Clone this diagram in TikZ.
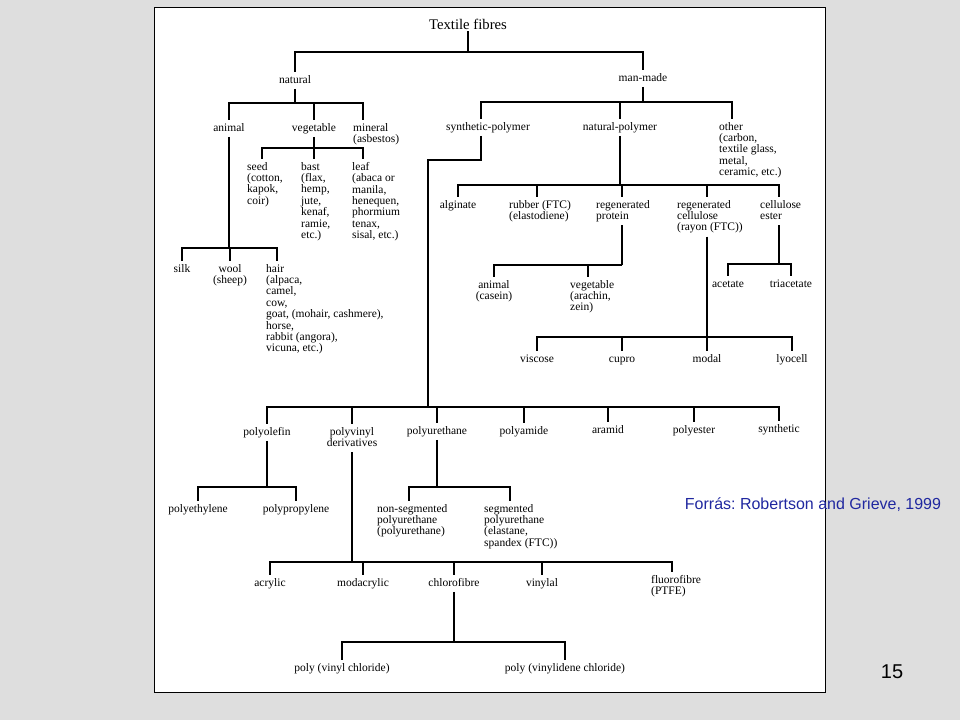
\documentclass[tikz,border=0pt]{standalone}
\usepackage{fontspec}
\setmainfont{Liberation Serif}
\newfontfamily\slidefont{Liberation Sans}
\definecolor{slidegray}{RGB}{222,222,222}
\definecolor{sourceblue}{RGB}{32,40,160}
\newcommand{\fibrefont}{\fontsize{11.5}{11.4}\selectfont}
\frenchspacing

\begin{document}
\begin{tikzpicture}[
    x=1pt, y=-1pt,
    title/.style={inner sep=0pt, anchor=base, font=\fontsize{14.7}{17}\selectfont},
    fibre/.style={
        inner sep=0pt, anchor=north, align=center,
        font=\fibrefont, execute at begin node=\strut
    },
    fibreleft/.style={fibre, anchor=north west, align=left},
    line/.style={line width=1.1pt},
    stem/.style={line, shorten <=2pt},
    branch/.style={line, shorten >=3pt},
    source/.style={font=\slidefont\fontsize{16}{19}\selectfont, text=sourceblue}
]

% Slide and page
\fill[slidegray] (0,0) rectangle (960,720);
\useasboundingbox (0,0) rectangle (960,720);
\draw[line width=1pt, fill=white] (154,7) rectangle (825,692);

% ============================== TOP ==============================
\node[title] (title) at (468,29) {Textile fibres};
\node[fibre] (natural) at (295,75) {natural};
\node[fibre] (manmade) at (643,73) {man-made};

\coordinate (topbar) at (468,52);
\draw[stem] (title.south) -- (topbar);
\draw[branch] (topbar) -| (natural.north);
\draw[branch] (topbar) -| (manmade.north);

% ============================== NATURAL ==============================
\node[fibre] (animal) at (229,123) {animal};
\node[fibre] (vegetable) at (314,123) {vegetable};
\node[fibreleft] (mineral) at (353,123) {mineral\\(asbestos)};

\coordinate (natbar) at (295,103);
\draw[stem] (natural.south) -- (natbar);
\draw[branch] (natbar) -| (animal.north);
\draw[branch] (natbar) -| (vegetable.north);
\draw[branch] (natbar) -| ([xshift=10pt]mineral.north west);

% NATURAL: vegetable
\node[fibreleft] (seed) at (247,162) {seed\\(cotton,\\kapok,\\coir)};
\node[fibreleft] (bast) at (301,162) {bast\\(flax,\\hemp,\\jute,\\kenaf,\\ramie,\\etc.)};
\node[fibreleft] (leaf) at (352,162) {leaf\\(abaca or\\manila,\\henequen,\\phormium\\tenax,\\sisal, etc.)};

\coordinate (vegbar) at (314,148);
\draw[stem] (vegetable.south) -- (vegbar);
\draw[branch] (vegbar) -| ([xshift=15pt]seed.north west);
\draw[branch] (vegbar) -| ([xshift=13pt]bast.north west);
\draw[branch] (vegbar) -| ([xshift=11pt]leaf.north west);

% NATURAL: animal
\node[fibre] (silk) at (182,264) {silk};
\node[fibre] (wool) at (230,264) {wool\\(sheep)};
\node[fibreleft] (hair) at (266,264) {hair\\(alpaca,\\camel,\\cow,\\goat, (mohair, cashmere),\\horse,\\rabbit (angora),\\vicuna, etc.)};

\coordinate (anibar) at (229,248);
\draw[stem] (animal.south) -- (anibar);
\draw[branch] (anibar) -| (silk.north);
\draw[branch] (anibar) -| (wool.north);
\draw[branch] (anibar) -| ([xshift=11pt]hair.north west);

% ============================== MAN-MADE ==============================
\node[fibre] (synpoly) at (488,122) {synthetic-polymer};
\node[fibre] (natpoly) at (620,122) {natural-polymer};
\node[fibreleft] (other) at (719,122) {other\\(carbon,\\textile glass,\\metal,\\ceramic, etc.)};

\coordinate (mmbar) at (643,102);
\draw[stem] (manmade.south) -- (mmbar);
\draw[branch] (mmbar) -| ([xshift=-7pt]synpoly.north);
\draw[branch] (mmbar) -| (natpoly.north);
\draw[branch] (mmbar) -| ([xshift=13pt]other.north west);

% MAN-MADE: natural-polymer
\node[fibre] (alginate) at (458,200) {alginate};
\node[fibreleft] (rubber) at (509,200) {rubber (FTC)\\(elastodiene)};
\node[fibreleft] (regprot) at (596,200) {regenerated\\protein};
\node[fibreleft] (regcell) at (677,200) {regenerated\\cellulose\\(rayon (FTC))};
\node[fibreleft] (celester) at (760,200) {cellulose\\ester};

\coordinate (npbar) at (620,185);
\draw[stem] (natpoly.south) -- (npbar);
\draw[branch] (npbar) -| (alginate.north);
\draw[branch] (npbar) -| ([xshift=28pt]rubber.north west);
\draw[branch] (npbar) -| ([xshift=26pt]regprot.north west);
\draw[branch] (npbar) -| ([xshift=30pt]regcell.north west);
\draw[branch] (npbar) -| ([xshift=19pt]celester.north west);

% regenerated protein
\node[fibre] (casein) at (494,280) {animal\\(casein)};
\node[fibreleft] (vegprot) at (570,280) {vegetable\\(arachin,\\zein)};

\coordinate (rpbar) at (622,265);
\draw[stem] ([xshift=26pt]regprot.south west) -- (rpbar);
\draw[branch] (rpbar) -| (casein.north);
\draw[branch] (rpbar) -| ([xshift=18pt]vegprot.north west);

% cellulose ester
\node[fibre] (acetate) at (728,279) {acetate};
\node[fibre] (triacetate) at (791,279) {triacetate};

\coordinate (cebar) at (779,264);
\draw[stem] ([xshift=19pt]celester.south west) -- (cebar);
\draw[branch] (cebar) -| (acetate.north);
\draw[branch] (cebar) -| (triacetate.north);

% regenerated cellulose
\node[fibre] (viscose) at (537,354) {viscose};
\node[fibre] (cupro) at (622,354) {cupro};
\node[fibre] (modal) at (707,354) {modal};
\node[fibre] (lyocell) at (792,354) {lyocell};

\coordinate (rcbar) at (707,337);
\draw[stem] ([xshift=30pt]regcell.south west) -- (rcbar);
\foreach \c in {viscose,cupro,modal,lyocell}
    \draw[branch] (rcbar) -| (\c.north);

% ============================== SYNTHETIC POLYMERS ==============================
\node[fibre] (polyolefin) at (267,427) {polyolefin};
\node[fibre] (polyvinyl) at (352,427) {polyvinyl\\derivatives};
\node[fibre] (polyurethane) at (437,426) {polyurethane};
\node[fibre] (polyamide) at (524,426) {polyamide};
\node[fibre] (aramid) at (608,425) {aramid};
\node[fibre] (polyester) at (694,425) {polyester};
\node[fibre] (synthetic) at (779,424) {synthetic};

\coordinate (spbend) at (481,160);
\coordinate (spcorner) at (428,160);
\coordinate (polybar) at (428,407);
\draw[stem] ([xshift=-7pt]synpoly.south) -- (spbend) -- (spcorner) -- (polybar);
\foreach \c in {polyolefin,polyvinyl,polyurethane,polyamide,aramid,polyester,synthetic}
    \draw[branch] (polybar) -| (\c.north);

% polyolefin
\node[fibre] (polyethylene) at (198,504) {polyethylene};
\node[fibre] (polypropylene) at (296,504) {polypropylene};

\coordinate (olbar) at (267,487);
\draw[stem] (polyolefin.south) -- (olbar);
\draw[branch] (olbar) -| (polyethylene.north);
\draw[branch] (olbar) -| (polypropylene.north);

% polyurethane
\node[fibreleft] (nonseg) at (377,504) {non-segmented\\polyurethane\\(polyurethane)};
\node[fibreleft] (seg) at (484,504) {segmented\\polyurethane\\(elastane,\\spandex (FTC))};

\coordinate (urbar) at (437,487);
\draw[stem] (polyurethane.south) -- (urbar);
\draw[branch] (urbar) -| ([xshift=32pt]nonseg.north west);
\draw[branch] (urbar) -| ([xshift=26pt]seg.north west);

% polyvinyl derivatives
\node[fibre] (acrylic) at (270,578) {acrylic};
\node[fibre] (modacrylic) at (363,578) {modacrylic};
\node[fibre] (chlorofibre) at (454,578) {chlorofibre};
\node[fibre] (vinylal) at (542,578) {vinylal};
\node[fibreleft] (fluorofibre) at (651,575) {fluorofibre\\(PTFE)};

\coordinate (vinbar) at (352,562);
\draw[stem] (polyvinyl.south) -- (vinbar);
\foreach \c in {acrylic,modacrylic,chlorofibre,vinylal}
    \draw[branch] (vinbar) -| (\c.north);
\draw[branch] (vinbar) -| ([xshift=21pt]fluorofibre.north west);

% chlorofibre
\node[fibre] (pvc) at (342,663) {poly (vinyl chloride)};
\node[fibre] (pvdc) at (565,663) {poly (vinylidene chloride)};

\coordinate (clbar) at (454,642);
\draw[stem] (chlorofibre.south) -- (clbar);
\draw[branch] (clbar) -| (pvc.north);
\draw[branch] (clbar) -| (pvdc.north);

% ============================== SLIDE TEXT ==============================
\node[source] (forras) at (813,505) {Forrás: Robertson and Grieve, 1999};
\node[font=\slidefont\fontsize{20}{24}\selectfont] (pagenum) at (892,672) {15};

\end{tikzpicture}
\end{document}
